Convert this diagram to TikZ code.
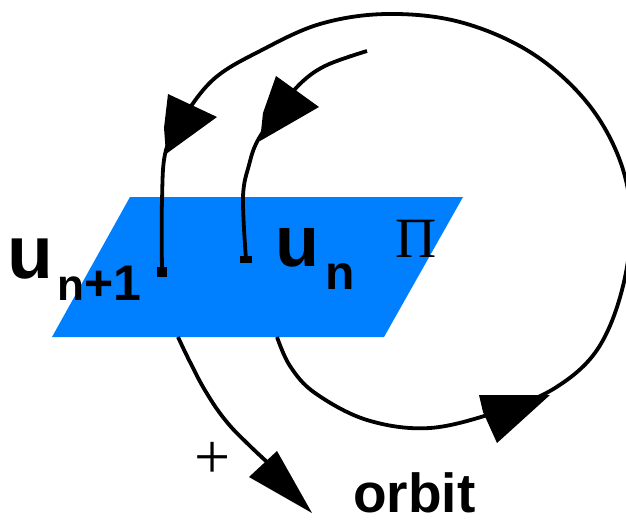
\documentclass[tikz,border=0pt]{standalone}
\usepackage{fontspec}
\setmainfont{Liberation Sans}
\newfontfamily\serifpi{Liberation Serif}
\begin{document}
\begin{tikzpicture}[x=1pt,y=-1pt,
  curve/.style={line width=3.8pt, line join=round},
  head/.style={fill=black},
  dotbox/.style={fill=black, inner sep=0pt, rectangle},
  lbl/.style={inner sep=0pt, anchor=base west, font=\bfseries}]
\useasboundingbox (0,0) rectangle (626,519);
\clip (0,0) rectangle (626,519);
\definecolor{planeblue}{RGB}{0,128,255}
% plane Pi
\coordinate (pa) at (130,197);
\coordinate (pb) at (463,197);
\coordinate (pc) at (384,337);
\coordinate (pd) at (52,337);
\fill[planeblue] (pa) -- (pb) -- (pc) -- (pd) -- cycle;
% points on the plane
\node[dotbox, minimum width=10pt, minimum height=10pt] (un1) at (162,272) {};
\node[dotbox, minimum width=12pt, minimum height=7pt] (un) at (246,259.5) {};
\coordinate (back) at (277,337);
\coordinate (out) at (178,337);
\coordinate (free) at (367,51);
\coordinate (orbtip) at (278,472);
% outer orbit from u_{n+1}
\draw[curve] plot[smooth, tension=0.6] coordinates {(un1) (162,200) (166,150) (185,115) (215,78) (260,51) (320,24) (387,14) (460,22) (530,52) (585,100) (619,158) (631,220) (622,290) (597,350) (555,388) (500,411) (430,428) (367,420) (315,393) (290,366) (back)};
% orbit from u_n
\draw[curve] plot[smooth, tension=0.6] coordinates {(un) (243,197) (249,165) (258,140) (280,108) (302,82) (327,65) (free)};
% orbit leaving the plane
\draw[curve] plot[smooth, tension=0.7] coordinates {(out) (190,362) (206,392) (226,421) (250,446) (orbtip)};
% arrow heads
\fill[head] (168,94) -- (217,117) -- (166,154) -- (164,128) -- cycle;
\fill[head] (276,76) -- (319,107) -- (260,141) -- (263,113) -- cycle;
\fill[head] (479,395) -- (550,395) -- (497,443) -- (483,412) -- cycle;
\fill[head] (277,451) -- (249,477) -- (312,513) -- cycle;
% labels
\node[lbl, font=\bfseries\fontsize{75}{75}\selectfont] (lu1) at (7.5,278) {u};
\node[lbl, font=\bfseries\fontsize{44}{44}\selectfont] (ls1) at (57,300) {n\fontsize{50}{50}\selectfont+1};
\node[lbl, font=\bfseries\fontsize{72}{72}\selectfont] (lu) at (275,266) {u};
\node[lbl, font=\bfseries\fontsize{48}{48}\selectfont] (ls) at (325,289) {n};
\node[inner sep=0pt, anchor=base, font=\serifpi\fontsize{57}{57}\selectfont] (lpi) at (416,257) {Π};
\node[inner sep=0pt, font=\serifpi\fontsize{64}{64}\selectfont] (lplus) at (213,460) {+};
\node[lbl, font=\bfseries\fontsize{55}{55}\selectfont] (lorbit) at (353,512) {orbit};
\end{tikzpicture}
\end{document}
